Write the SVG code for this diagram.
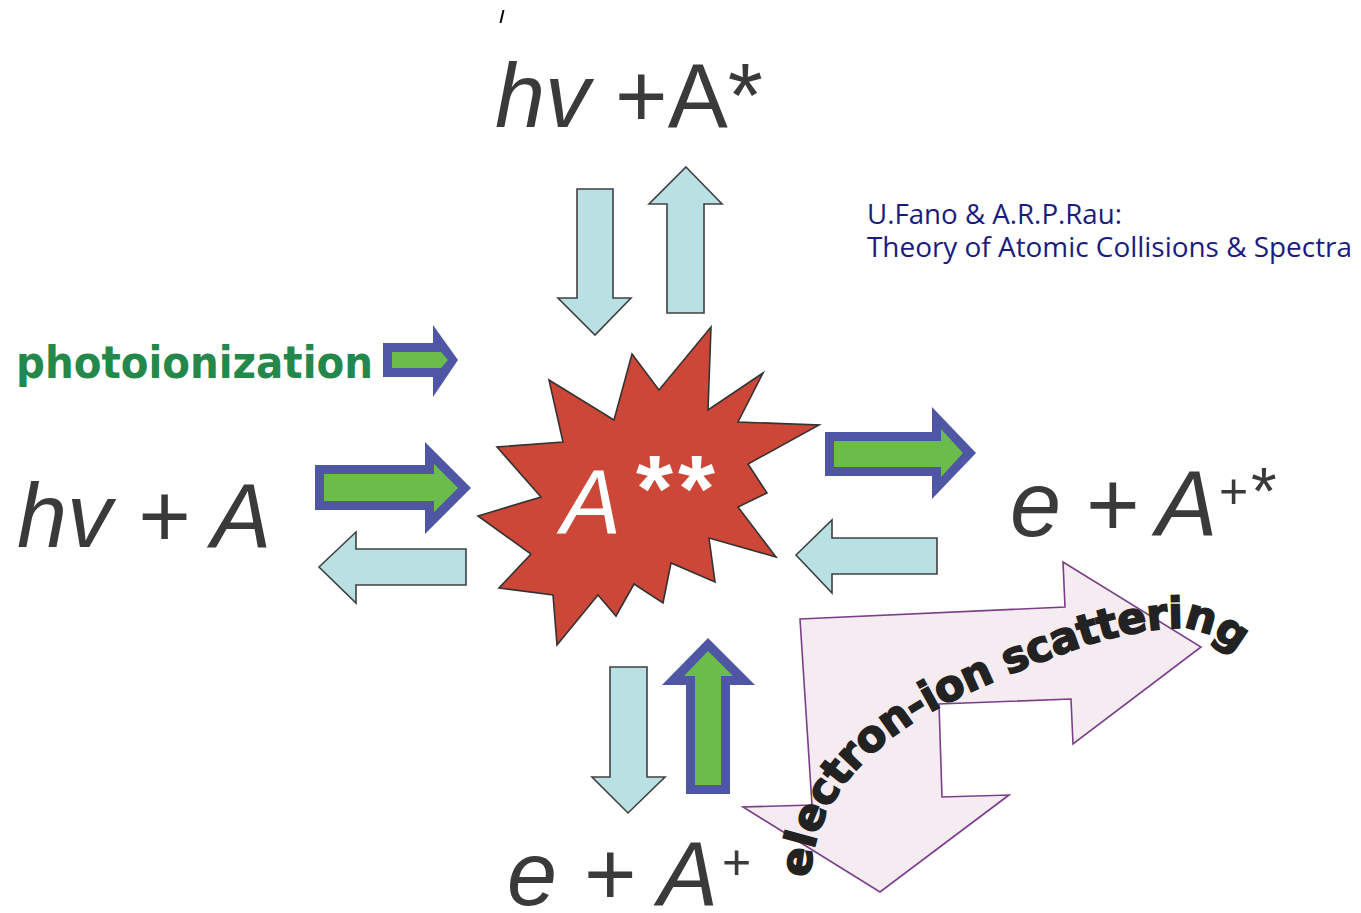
<svg xmlns="http://www.w3.org/2000/svg" width="1361" height="913" viewBox="0 0 1361 913">
<style>
.lbl{font-family:"Liberation Sans",Arial,sans-serif;fill:#3a3a3a}
.it{font-style:italic}
.lb{fill:#b9e0e3;stroke:#404040;stroke-width:1.6;stroke-linejoin:miter}
.bo{fill:#4f57a5}
.gi{fill:#6bbd4b}
.cite{font-family:"Open Sans","Liberation Sans",sans-serif;font-size:27px;fill:#1b1b7e}
</style>
<defs>
<path id="curve" d="M 810,878 C 814,800 870,740 960,697 C 1040,660 1120,628 1180,628 C 1205,628 1232,645 1258,674"/>
</defs>
<rect width="1361" height="913" fill="#ffffff"/>

<g id="tick"><polygon points="502.5,10 504.5,10 501.5,23 499.5,23" fill="#000"/></g>

<g id="node-top">
<text class="lbl" x="495" y="127" font-size="90"><tspan class="it">hv</tspan> +A*</text>
</g>

<g id="node-left">
<text class="lbl it" x="17" y="547" font-size="90">hv + A</text>
</g>

<g id="node-right">
<text class="lbl it" x="1010" y="536" font-size="92">e</text>
<text class="lbl" x="1086" y="536" font-size="92">+</text>
<text class="lbl it" x="1156" y="536" font-size="92">A</text>
<text class="lbl" x="1219" y="508" font-size="50">+</text>
<text class="lbl" x="1251" y="514" font-size="66">*</text>
</g>

<g id="node-bottom">
<text class="lbl it" x="507" y="905" font-size="90">e</text>
<text class="lbl" x="584" y="905" font-size="90">+</text>
<text class="lbl it" x="658" y="905" font-size="90">A</text>
<text class="lbl" x="722" y="879" font-size="50">+</text>
</g>

<g id="citation">
<text class="cite" x="867" y="224" textLength="255" lengthAdjust="spacingAndGlyphs">U.Fano &amp; A.R.P.Rau:</text>
<text class="cite" x="867" y="257" textLength="485" lengthAdjust="spacingAndGlyphs">Theory of Atomic Collisions &amp; Spectra</text>
</g>

<g id="photoionization">
<text x="16" y="378" font-family="'DejaVu Sans',Verdana,sans-serif" font-weight="bold" font-size="45" fill="#23884a" textLength="357" lengthAdjust="spacingAndGlyphs">photoionization</text>
<polygon class="bo" points="383,343 433,343 433,325 458,360 433,397 433,377 383,377"/>
<polygon class="gi" points="392,352 441,352 448,360 441,368 392,368"/>
</g>

<g id="electron-ion-scattering">
<polygon points="800,619 1065,607 1063,562 1201,647 1073,744 1071,699 939,704 942,797 1009,795 880,892 743,807 812,805" fill="#f5ecf1" stroke="#7b3f87" stroke-width="1.6" stroke-linejoin="miter"/>
<text font-family="'DejaVu Sans',sans-serif" font-weight="bold" font-size="43" fill="#222" stroke="#222" stroke-width="1.6" letter-spacing="-0.6"><textPath href="#curve">electron-ion scattering</textPath></text>
</g>

<g id="node-center">
<polygon points="711,327 708,410 763,373 738,422 819,425 748,464 767,493 738,507 776,557 709,538 715,582 671,563 663,603 634,584 616,616 598,595 557,645 553,595 499,588 531,554 478,516 541,497 497,447 563,442 549,380 614,420 632,354 659,390" fill="#cc4738" stroke="#333" stroke-width="1.6" stroke-linejoin="miter"/>
<text x="561" y="533" font-family="'Liberation Sans',Arial,sans-serif" font-style="italic" font-size="90" fill="#ffffff">A</text>
<text x="636" y="521" font-family="'Liberation Sans',Arial,sans-serif" font-weight="bold" font-size="95" fill="#ffffff" letter-spacing="5">**</text>
</g>

<g id="connectors">
<polygon class="lb" points="577,189 613,189 613,298 631,298 595,335 558,298 577,298"/>
<polygon class="lb" points="686,167 722,204 704,204 704,313 667,313 667,204 649,204"/>
<polygon class="bo" points="315,465 425,465 425,442 471,488 425,534 425,510 315,510"/>
<polygon class="gi" points="324,474 434,474 434,464 458,488 434,512 434,501 324,501"/>
<polygon class="lb" points="319,567 356,532 356,549 466,549 466,585 356,585 356,603"/>
<polygon class="bo" points="825,432 932,432 932,407 976,453 932,499 932,476 825,476"/>
<polygon class="gi" points="834,441 941,441 941,429 963,453 941,477 941,467 834,467"/>
<polygon class="lb" points="796,555 832,520 832,538 937,538 937,574 832,574 832,593"/>
<polygon class="lb" points="610,667 647,667 647,777 665,777 628,813 592,777 610,777"/>
<polygon class="bo" points="708,638 755,685 730,685 730,794 686,794 686,685 662,685"/>
<polygon class="gi" points="708,651 733,676 721,676 721,785 695,785 695,676 684,676"/>
</g>
</svg>
